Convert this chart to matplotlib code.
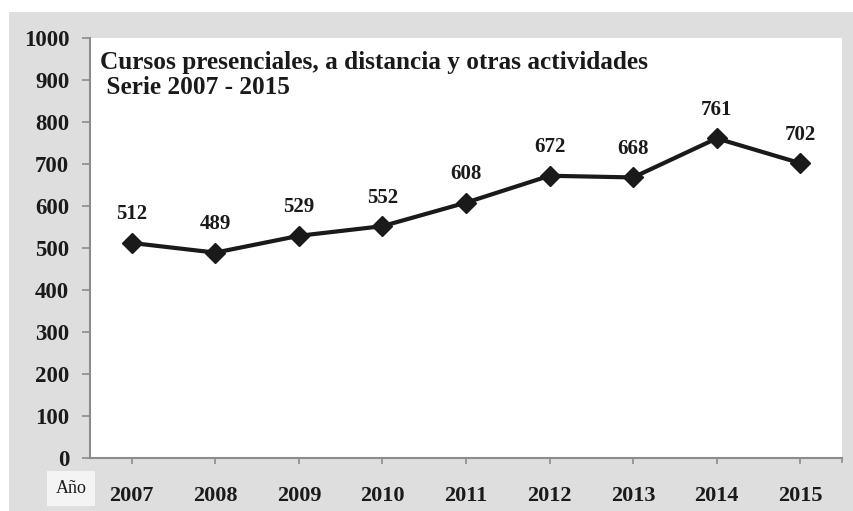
import matplotlib.pyplot as plt
from matplotlib.patches import Rectangle

# Datos
years = ['2007', '2008', '2009', '2010', '2011', '2012', '2013', '2014', '2015']
values = [512, 489, 529, 552, 608, 672, 668, 761, 702]

plt.rcParams['font.family'] = ['Liberation Serif', 'DejaVu Serif']

fig = plt.figure(figsize=(8.54, 5.11), dpi=100)
fig.patch.set_facecolor('white')
W, H = 854, 511
# fondo gris del área del gráfico
fig.patches.append(Rectangle((9 / W, 0), 1 - 9 / W, 1 - 12 / H, transform=fig.transFigure,
                             facecolor='#dedede', edgecolor='none', zorder=-10))

ax = fig.add_axes([90 / W, 1 - 458 / H, (842 - 90) / W, (458 - 38) / H])
ax.set_facecolor('white')
x = list(range(len(years)))
ax.plot(x, values, color='#1a1a1a', lw=3, marker='D', ms=10, zorder=3)
for xi, v in zip(x, values):
    ax.annotate(str(v), (xi, v), xytext=(0, 17), textcoords='offset points',
                ha='center', va='baseline', fontsize=15, fontweight='bold', color='#1a1a1a')

ax.set_xlim(-0.5, 8.5)
ax.set_ylim(0, 1000)
ax.set_yticks(range(0, 1001, 100))
ax.set_xticks(x)
ax.set_xticklabels(years)
for s in ['top', 'right']:
    ax.spines[s].set_visible(False)
for s in ['left', 'bottom']:
    ax.spines[s].set_color('#8c8c8c')
    ax.spines[s].set_linewidth(1.5)
ax.tick_params(axis='both', colors='#8c8c8c', width=1.2, labelcolor='#1a1a1a')
ax.tick_params(axis='x', length=4, pad=16.5, labelsize=16)
ax.tick_params(axis='y', length=6, pad=9, labelsize=16.5)
for lab in ax.get_xticklabels() + ax.get_yticklabels():
    lab.set_fontweight('bold')
# marca en el borde derecho del eje x
ax.plot([8.5, 8.5], [0, -0.01], transform=ax.get_xaxis_transform(), color='#8c8c8c',
        lw=1.2, clip_on=False)

ax.text(0.013, 0.97, 'Cursos presenciales, a distancia y otras actividades\n Serie 2007 - 2015',
        transform=ax.transAxes, ha='left', va='top', fontsize=18.2, fontweight='bold',
        color='#1a1a1a', linespacing=1.16)

fig.text(71 / W, 1 - 488.5 / H, 'Año', ha='center', va='center', fontsize=13, color='#1a1a1a',
         bbox=dict(boxstyle='square,pad=0.5', facecolor='#f4f4f4', edgecolor='none'))

fig.savefig('out.png', dpi=100)
